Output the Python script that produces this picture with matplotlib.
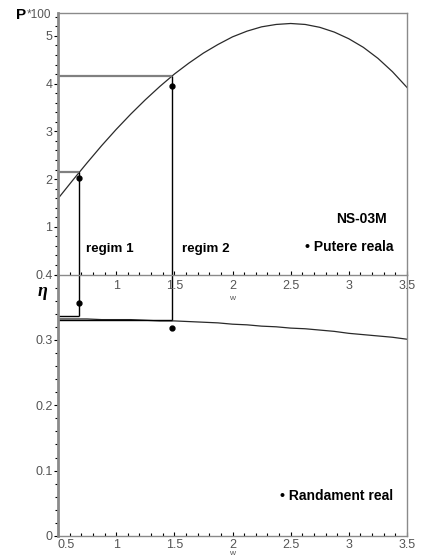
import matplotlib
matplotlib.use("Agg")
import matplotlib.pyplot as plt
from matplotlib.ticker import MultipleLocator, FixedLocator

# --- data -------------------------------------------------------------
w_grid = [0.5, 0.625, 0.75, 0.875, 1.0, 1.125, 1.25, 1.375, 1.5, 1.625, 1.75, 1.875,
          2.0, 2.125, 2.25, 2.375, 2.5, 2.625, 2.75, 2.875, 3.0, 3.125, 3.25, 3.375, 3.5]
power_model = [1.59, 1.97, 2.34, 2.70, 3.04, 3.36, 3.66, 3.94, 4.20, 4.43, 4.64, 4.82,
               4.98, 5.10, 5.19, 5.24, 5.26, 5.24, 5.18, 5.08, 4.94, 4.76, 4.53, 4.25, 3.92]
eff_model = [0.332, 0.332, 0.332, 0.331, 0.331, 0.331, 0.330, 0.329, 0.329, 0.328,
             0.327, 0.326, 0.324, 0.323, 0.321, 0.320, 0.318, 0.317, 0.315, 0.313,
             0.310, 0.308, 0.306, 0.304, 0.301]

w_regime = [0.68, 1.48]
regime_names = ["regim 1", "regim 2"]
power_at_regime = [2.14, 4.17]
eff_at_regime = [0.336, 0.330]
power_real = [2.03, 3.94]
eff_real = [0.357, 0.318]

x_ticks_top = [1, 1.5, 2, 2.5, 3, 3.5]
x_ticks_bottom = [0.5, 1, 1.5, 2, 2.5, 3, 3.5]
p_ticks = [1, 2, 3, 4, 5]
eta_ticks = [0, 0.1, 0.2, 0.3, 0.4]

# --- style ------------------------------------------------------------
plt.rcParams['font.family'] = ['Liberation Sans', 'DejaVu Sans']
AXC = '#8a8a8a'
TXC = '#555555'
CURVE = '#2a2a2a'

W, H = 422, 558
fig = plt.figure(figsize=(W / 100, H / 100), dpi=100)
fig.patch.set_facecolor('white')

left, right = 58, 407
ax2 = fig.add_axes([left / W, 1 - 536 / H, (right - left) / W, (536 - 274.5) / H])
ax1 = fig.add_axes([left / W, 1 - 274.5 / H, (right - left) / W, (274.5 - 13) / H])
ax1.set_zorder(3)
ax1.patch.set_visible(False)


def style(ax):
    for s in ax.spines.values():
        s.set_color(AXC)
        s.set_linewidth(1.0)
    ax.spines['left'].set_linewidth(2.0)
    ax.tick_params(axis='both', colors='black', labelcolor=TXC, labelsize=9)
    ax.tick_params(axis='y', which='major', direction='out', length=3, width=0.8, pad=1)
    ax.tick_params(axis='y', which='minor', direction='out', length=2, width=0.8)
    ax.tick_params(axis='x', which='major', direction='in', length=3, width=0.8, pad=4)
    ax.tick_params(axis='x', which='minor', direction='in', length=2, width=0.8)
    ax.xaxis.set_minor_locator(MultipleLocator(0.1))
    ax.set_xlim(0.5, 3.5)


# --- upper panel: power -------------------------------------------------
style(ax1)
ax1.set_ylim(0, 5.48)
ax1.yaxis.set_major_locator(FixedLocator(p_ticks))
ax1.yaxis.set_minor_locator(MultipleLocator(0.2))
ax1.set_xticks(x_ticks_top)
ax1.set_xticklabels([f"{v:g}" for v in x_ticks_top])

ax1.plot(w_grid, power_model, color=CURVE, lw=0.9)
for wr, pr in zip(w_regime, power_at_regime):
    ax1.hlines(pr, 0.5, wr, color='#808080', lw=1.6)
    ax1.vlines(wr, 0, pr, color='black', lw=1.0)
ax1.plot(w_regime, power_real, 'o', color='black', ms=3.5)

ax1.text(0.74, 0.53, regime_names[0], fontsize=9.6, fontweight='bold', va='center')
ax1.text(1.57, 0.53, regime_names[1], fontsize=9.6, fontweight='bold', va='center')
ax1.text(3.105, 1.17, "NS-03M", fontsize=10, fontweight='bold', ha='center', va='center')
ax1.text(2.62, 0.58, "\u2022 Putere reala", fontsize=10, fontweight='bold', va='center')
ax1.annotate("w", xy=(2, 0), xycoords=('data', 'axes fraction'), xytext=(0, -17),
             textcoords='offset points', ha='center', va='center', fontsize=6, color=TXC)

# --- lower panel: efficiency ----------------------------------------------
style(ax2)
ax2.spines['top'].set_visible(False)
ax2.tick_params(axis='x', which='major', pad=2)
ax2.set_ylim(0, 0.4)
ax2.yaxis.set_major_locator(FixedLocator(eta_ticks))
ax2.set_yticklabels([f"{v:g}" for v in eta_ticks])
ax2.yaxis.set_minor_locator(MultipleLocator(0.02))
ax2.set_xticks(x_ticks_bottom)
ax2.set_xticklabels([f"{v:g}" for v in x_ticks_bottom])
ax2.get_xticklabels()[0].set_ha('left')

ax2.plot(w_grid, eff_model, color=CURVE, lw=0.9)
for wr, er in zip(w_regime, eff_at_regime):
    ax2.hlines(er, 0.5, wr, color='black', lw=1.0)
    ax2.vlines(wr, er, 0.4, color='black', lw=1.0)
ax2.plot(w_regime, eff_real, 'o', color='black', ms=3.5)

ax2.text(2.41, 0.061, "\u2022 Randament real", fontsize=10, fontweight='bold', va='center')
ax2.annotate("w", xy=(2, 0), xycoords=('data', 'axes fraction'), xytext=(0, -12.5),
             textcoords='offset points', ha='center', va='center', fontsize=6, color=TXC)

# --- axis titles ------------------------------------------------------------
fig.text(16 / W, 1 - 15 / H, "P", fontsize=11, fontweight='bold', va='center')
fig.text(27 / W, 1 - 15 / H, "*100", fontsize=8.5, color=TXC, va='center')
fig.text(43 / W, 1 - 291 / H, "\u03b7", fontsize=13, fontweight='bold', style='italic',
         family=['Liberation Serif', 'DejaVu Serif'], ha='center', va='center')

fig.savefig("out.png", dpi=100)
